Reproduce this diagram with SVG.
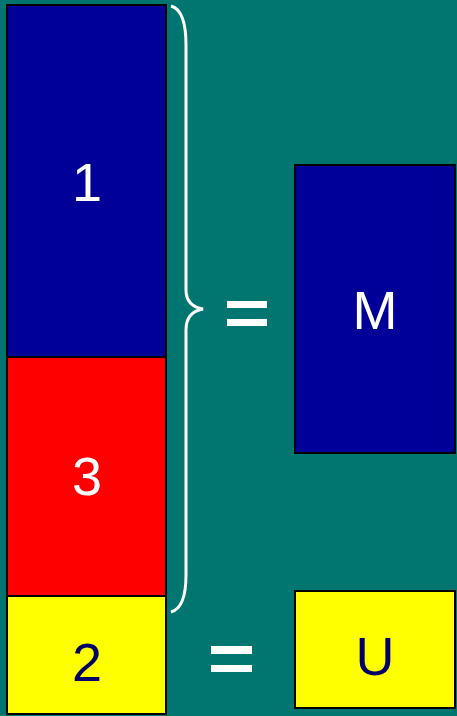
<svg xmlns="http://www.w3.org/2000/svg" width="457" height="716" viewBox="0 0 457 716">
<style>
.box{stroke:#000;stroke-width:2}
.lbl{font-family:"Liberation Sans",Arial,sans-serif;font-size:54px;text-anchor:middle}
.w{fill:#fff}
.d{fill:#000066}
.eq{fill:#fff}
</style>
<rect width="457" height="716" fill="#017570"/>
<g id="n1"><rect class="box" x="7" y="5" width="159" height="352" fill="#000099"/><text class="lbl w" x="87" y="201">1</text></g>
<g id="n3"><rect class="box" x="7" y="357" width="159" height="239" fill="#FF0000"/><text class="lbl w" x="87" y="495">3</text></g>
<g id="n2"><rect class="box" x="7" y="596" width="159" height="118" fill="#FFFF00"/><text class="lbl d" x="87" y="681">2</text></g>
<g id="nM"><rect class="box" x="295" y="165" width="160" height="288" fill="#000099"/><text class="lbl w" x="375" y="329">M</text></g>
<g id="nU"><rect class="box" x="295" y="591" width="160" height="117" fill="#FFFF00"/><text class="lbl d" x="375" y="675">U</text></g>
<g id="connectors">
<path d="M171,6 Q186,10 186,45 L186,290 Q186,306 203,309 Q186,312 186,330 L186,575 Q186,608 171,612" fill="none" stroke="#fff" stroke-width="3"/>
<rect class="eq" x="227" y="301" width="40" height="7"/>
<rect class="eq" x="227" y="319" width="40" height="7"/>
<rect class="eq" x="211" y="646" width="41" height="8"/>
<rect class="eq" x="211" y="665" width="41" height="7"/>
</g>
</svg>
